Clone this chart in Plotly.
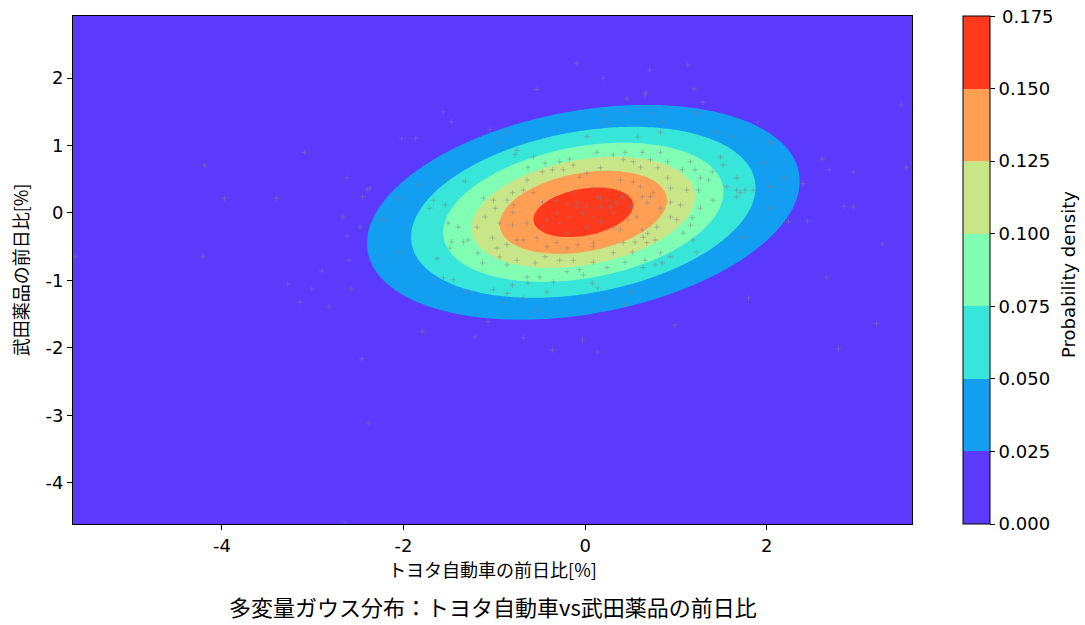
import numpy as np
import plotly.graph_objects as go

# ---- data ----
# fitted Gaussian parameters (mean, covariance) of daily change [%]
mean_toyota = -0.02
mean_takeda = 0.01
var_toyota = 1.50
var_takeda = 0.67
cov_tt = 0.29

# axis extents (data min / max)
x_range = [-5.64, 3.60]
y_range = [-4.61, 2.92]

levels = [0.0, 0.025, 0.05, 0.075, 0.1, 0.125, 0.15, 0.175]
level_labels = ["0.000", "0.025", "0.050", "0.075", "0.100", "0.125", "0.150", "0.175"]
band_colors = ["#5b39fd", "#129ff1", "#37e6d8", "#80ffb4", "#c8e688", "#ff9f54", "#ff391c"]

x_ticks = [-4, -2, 0, 2]
x_tick_labels = ["-4", "-2", "0", "2"]
y_ticks = [-4, -3, -2, -1, 0, 1, 2]
y_tick_labels = ["-4", "-3", "-2", "-1", "0", "1", "2"]

# observed daily changes (Toyota, Takeda) [%]
toyota = [
    -0.09, 1.13, 0.71, 0.20, -0.53, 0.67, 1.20, -1.56, -1.47, -1.87, -2.02, -2.37, -2.45, -2.48,
    0.24, 0.46, 0.75, 1.45, 1.90, 2.04, 2.40, 2.24, 2.04, 1.71, 1.80, 0.99, -0.68, -1.21, -1.07,
    -1.79, 0.14, -0.03, -4.19, -3.09, -2.62, -2.40, -3.40, -3.97, -2.67, -2.62, -5.62, -4.21, -2.60,
    -2.90, -3.28, -3.01, -2.58, -3.14, -2.82, -2.46, -2.38, -2.64, 2.66, 3.21, -0.36, 2.79,
    3.48, 2.61, 2.69, 2.96, 3.54, 2.85, 2.96, 2.45, 3.27,
    -0.86, -1.05, -0.94, -0.75, -0.77, -0.57, -0.44, -0.28, -0.17, -0.63, -0.36, -0.47, -0.24, -0.13,
    -0.06, -0.64, -0.68, -0.80, -0.57, -0.86, -1.01, -1.12, -1.32, -1.54, -1.84, -1.67, -1.54, -1.71,
    -0.99, -0.79, -0.47, -0.31, -0.19, -0.08, -2.06,
    0.46, 0.66, 1.30, 0.22, 1.23, 0.86, 0.02, 0.58, 0.83, 1.62, 0.13, 0.31, 0.44, 0.63, 0.83, 0.42,
    0.53, 0.72, 0.91, 1.16, 1.49, 0.17, 0.61, 0.80, 1.07, 1.21, 1.40, 1.52, 1.95, 0.02, 0.39, 0.53,
    0.91, 1.27, 1.36, 1.67, 0.09, 0.61, 0.94, 1.12, 1.25, 1.56, 1.67, 1.85, 2.20, 0.17, 0.41, 0.63,
    0.72, 0.94, 1.05, 1.41, 1.67, 1.76, 0.02, 0.28, 0.50, 0.83, 1.27, 2.04,
    -2.23, -2.04, -1.63, -1.51, -1.40, -1.47, -1.34, -1.49, -1.29, -1.19, -1.18, -1.13, -1.02, -0.97,
    -0.86, -0.94, -0.86, -0.75, -0.80, -0.64, -1.10, -0.68, -0.53, -0.42, -0.31, -0.20, -0.08, -0.44,
    -0.28, -0.13, -0.55, -0.20, -0.06, -0.64, -0.50, -0.35, -0.63, -0.80, -1.01, -0.86, -0.42, -1.30,
    -1.45, -1.56, -0.90, -0.68, -0.53, -0.03,
    0.09, 0.31, 0.52, 0.55, 0.68, 0.77, 0.63, 0.69, 0.79, 0.94, 1.01, 1.16, 1.18, 1.08, 1.19, 1.23,
    0.94, 0.83, 0.66, 0.44, 0.09, 0.24, 0.64, 0.77, 0.85, -0.02, 0.08, 0.14, 0.50, 0.22, 0.44, 1.73,
    0.31, 0.17, 0.39, 0.47,
    0.14, 0.25, 0.35, -0.17, -0.28, -0.42, 0.02, 0.17, -0.09, -0.46, -0.20, 0.09, 0.31, -0.31, -0.13,
    -0.94, -0.80, -0.75, 0.57, 0.68, 0.75, 0.64, 0.42, 0.09,
]
takeda = [
    2.22, 2.19, 2.12, 2.00, 1.83, 1.78, 1.84, 1.50, 1.35, 1.11, 1.11, 0.37, 0.24, -0.21,
    1.33, 1.50, 1.48, 1.20, 1.35, 1.04, 0.44, -0.13, 0.39, 0.30, -1.26, -1.66, -1.85, -1.84, -1.61,
    -1.76, -2.06, -1.88, 0.70, 0.90, 0.52, 0.34, 0.22, 0.22, -0.06, -0.34, -0.65, -0.65, -0.70,
    -0.86, -1.05, -1.13, -1.13, -1.32, -1.39, -2.16, -3.11, -4.58, -0.95, -1.64, -2.03, -2.01,
    1.60, 0.80, 0.64, 0.61, 0.68, 0.10, 0.09, -0.12, -0.46,
    1.20, 1.24, 1.04, 0.93, 0.87, 0.83, 0.74, 0.76, 0.80, 0.68, 0.64, 0.61, 0.64, 0.71,
    0.53, 0.49, 0.34, 0.30, 0.30, 0.19, 0.19, 0.22, 0.47, 0.49, 0.41, 0.19, 0.12, 0.07,
    0.07, 0.12, 0.16, 0.19, 0.12, 0.15, 0.22,
    1.70, 1.75, 1.64, 1.45, 1.48, 1.35, 1.13, 1.13, 1.20, 1.13, 0.90, 0.86, 0.90, 0.90, 0.90, 0.79,
    0.76, 0.79, 0.76, 0.76, 0.83, 0.67, 0.68, 0.67, 0.64, 0.64, 0.61, 0.71, 0.74, 0.59, 0.49, 0.46,
    0.52, 0.52, 0.49, 0.52, 0.37, 0.39, 0.37, 0.34, 0.34, 0.39, 0.34, 0.34, 0.52, 0.22, 0.24, 0.24,
    0.24, 0.16, 0.12, 0.19, 0.24, 0.34, 0.09, 0.09, 0.09, 0.07, 0.07, 0.07,
    -0.10, -0.58, -0.67, -0.15, -0.21, -0.43, -0.43, -0.52, -0.40, -0.21, -0.59, -0.74, -0.37, -0.52,
    -0.47, -0.65, -0.77, -0.70, -0.18, -0.15, -0.06, -0.40, -0.37, -0.50, -0.44, -0.52, -0.47, -0.65,
    -0.70, -0.70, -0.74, -0.87, -0.84, -0.95, -0.95, -1.02, -1.04, -1.07, -1.14, -1.19, -1.17, -1.17,
    -0.99, -0.96, -1.33, -1.26, -1.44, 0.00,
    -0.44, -0.59, -0.58, -0.43, -0.44, -0.40, -0.25, -0.30, -0.21, -0.06, -0.10, -0.18, -0.07, -0.30,
    -0.40, -0.58, -0.65, -0.59, -0.70, -0.73, -0.73, -0.81, -0.81, -0.77, -0.74, -0.92, -1.04, -1.11,
    -1.17, -1.26, -1.36, -0.36, -0.21, -0.13, -0.25, -0.10,
    0.24, 0.19, 0.15, -0.06, -0.15, -0.10, -0.21, 0.09, 0.09, -0.21, -0.30, -0.06, 0.00, 0.00, 0.31,
    -0.15, 0.01, -0.40, -0.06, 0.15, 0.30, -0.36, -0.44, -0.50,
]

# ---- density surface of the fitted Gaussian ----
gx = np.linspace(x_range[0], x_range[1], 300)
gy = np.linspace(y_range[0], y_range[1], 300)
X, Y = np.meshgrid(gx, gy)
S = np.array([[var_toyota, cov_tt], [cov_tt, var_takeda]])
Si = np.linalg.inv(S)
dx = X - mean_toyota
dy = Y - mean_takeda
md = Si[0, 0] * dx * dx + 2 * Si[0, 1] * dx * dy + Si[1, 1] * dy * dy
Z = np.exp(-0.5 * md) / (2 * np.pi * np.sqrt(np.linalg.det(S)))

# stepped colour scale; plotly samples band i at fraction (i+1)/n, so each
# colour is centred on that sample point
n = len(band_colors)
colorscale = [[0.0, band_colors[0]]]
for i, c in enumerate(band_colors):
    lo = max(0.0, (i + 0.5) / n)
    hi = min(1.0, (i + 1.5) / n)
    if i > 0:
        colorscale.append([lo, c])
    colorscale.append([hi, c])

W, H = 1085, 625
L, R, T, B = 73, 0, 16, 625 - 524
pw = W - L - R
ph = H - T - B
plot_right = 912
cb_left = 963


def xp(px):
    return (px - L) / pw


def yp(py):
    return 1 - (py - T) / ph


TICK_FONT = dict(family="DejaVu Sans", size=18, color="black")
JP_FONT = "Noto Sans CJK JP"

# top colour-bar label is drawn as an annotation (plotly drops it at the edge)
cb_ticktext = level_labels[:-1] + [""]

fig = go.Figure()
fig.add_trace(go.Contour(
    x=gx, y=gy, z=Z,
    zmin=levels[0], zmax=levels[-1], zauto=False,
    autocontour=False,
    contours=dict(start=levels[0], end=levels[-1], size=levels[1] - levels[0], coloring="fill", showlines=False),
    line=dict(width=0),
    colorscale=colorscale,
    colorbar=dict(
        x=xp(cb_left), xanchor="left", xpad=0, ypad=0,
        y=0.5, yanchor="middle", len=1, lenmode="fraction",
        thickness=27, outlinewidth=1, outlinecolor="black",
        tickvals=levels, ticktext=cb_ticktext,
        ticks="outside", ticklen=5, tickcolor="black",
        tickfont=TICK_FONT,
    ),
    hoverinfo="skip",
))
fig.add_trace(go.Scatter(
    x=toyota, y=takeda, mode="markers",
    marker=dict(symbol="cross-thin", size=4,
                line=dict(width=1, color="rgba(128,128,135,0.45)")),
    showlegend=False, hoverinfo="skip",
))

axis_common = dict(
    showgrid=True, gridcolor="rgba(215,215,215,0.75)", gridwidth=1,
    showline=True, linecolor="black", linewidth=1, mirror=True,
    ticks="outside", ticklen=5, tickcolor="black",
    tickfont=TICK_FONT,
    zeroline=False, layer="above traces",
)
fig.update_layout(
    width=W, height=H,
    margin=dict(l=L, r=R, t=T, b=B),
    paper_bgcolor="white", plot_bgcolor="white",
    showlegend=False,
    xaxis=dict(range=x_range, domain=[0, xp(plot_right)],
               tickvals=x_ticks, ticktext=x_tick_labels,
               title=dict(text="トヨタ自動車の前日比[%]", standoff=8,
                          font=dict(family=JP_FONT, size=18, color="black")),
               **axis_common),
    yaxis=dict(range=y_range, tickvals=y_ticks, ticktext=y_tick_labels,
               title=dict(text="武田薬品の前日比[%]", standoff=12,
                          font=dict(family=JP_FONT, size=18, color="black")),
               **axis_common),
    annotations=[
        dict(text="多変量ガウス分布：トヨタ自動車vs武田薬品の前日比",
             xref="paper", yref="paper", x=xp((73 + 912) / 2), y=yp(606),
             xanchor="center", yanchor="middle", showarrow=False,
             font=dict(family=JP_FONT, size=22, color="black")),
        dict(text=level_labels[-1], xref="paper", yref="paper",
             x=xp(1000), y=yp(16), xanchor="left", yanchor="middle", showarrow=False,
             font=TICK_FONT),
        dict(text="Probability density", xref="paper", yref="paper",
             x=xp(1068), y=yp(275), xanchor="center", yanchor="middle",
             textangle=-90, showarrow=False,
             font=dict(family="DejaVu Sans", size=18, color="black")),
    ],
)

fig.write_html("out.html", config={"displayModeBar": False},
               post_script="document.body.style.margin='0';")
